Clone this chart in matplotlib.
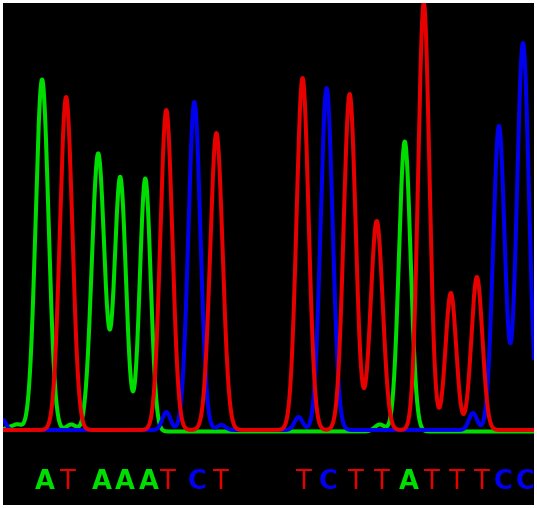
import numpy as np
import matplotlib
matplotlib.use("Agg")
import matplotlib.pyplot as plt

# sequencing trace, peaks (x in scan units, height in signal units)
A_POS = [8, 18, 43, 72, 99, 121, 146, 380, 405]
A_HT = [3, 7, 352, 7, 278, 254, 253, 7, 290]
A_SD = [4, 5, 6.4, 5, 6.4, 5.7, 5.4, 5, 5.8]

C_POS = [4, 167, 195, 222, 299, 327, 473, 499, 523]
C_HT = [10, 18, 328, 5, 13, 342, 17, 304, 387]
C_SD = [3, 4, 6.0, 4, 4, 6.0, 4, 5.8, 6.0]

T_POS = [67, 167, 217, 303, 350, 377, 424, 451, 477]
T_HT = [333, 320, 297, 352, 336, 209, 427, 137, 153]
T_SD = [6.2, 6.0, 6.2, 6.0, 6.0, 6.0, 5.6, 5.3, 5.5]

CALLS = list("ATAAATCTTCTTATTTCC")
CALL_POS = [46, 69, 103, 126, 150, 169, 198, 222,
            304, 329, 356, 382, 409, 432, 457, 482, 503, 525]

COLORS = {"A": "#00dd00", "C": "#0000ee", "T": "#e60000"}


def trace(x, pos, ht, sd):
    y = np.zeros_like(x)
    for p, h, s in zip(pos, ht, sd):
        y += h * np.exp(-0.5 * ((x - p) / s) ** 2)
    return y


fig = plt.figure(figsize=(5.37, 5.08), dpi=100, facecolor="white")
ax = fig.add_axes([3 / 537, 3 / 508, 531 / 537, 502 / 508])
ax.set_facecolor("black")

x = np.linspace(4, 534, 2200)
ax.plot(x, trace(x, A_POS, A_HT, A_SD) - 1.5, color=COLORS["A"], lw=2.9)
ax.plot(x, trace(x, C_POS, C_HT, C_SD), color=COLORS["C"], lw=2.9)
ax.plot(x, trace(x, T_POS, T_HT, T_SD), color=COLORS["T"], lw=2.9)

for base, xp in zip(CALLS, CALL_POS):
    ax.text(xp, -52, base, color=COLORS[base], fontsize=18.5,
            ha="center", va="center", family="DejaVu Sans",
            fontweight="normal" if base == "T" else "bold")

ax.set_xlim(4, 534)
ax.set_ylim(-75, 427)
ax.set_xticks([])
ax.set_yticks([])
for s in ax.spines.values():
    s.set_visible(False)

fig.savefig("out.png", dpi=100, facecolor="white")
